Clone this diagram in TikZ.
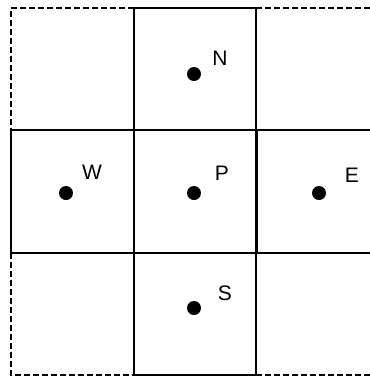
\documentclass[tikz,border=0pt]{standalone}
\usepackage{fontspec}
\setmainfont{Liberation Sans}
\usetikzlibrary{positioning}

\begin{document}
\begin{tikzpicture}[
x=1pt,y=-1pt,
linha/.style={line width=1.6pt},
borda/.style={line width=1.6pt,dash pattern=on 6pt off 3pt},
ponto/.style={
circle,
fill=black,
inner sep=0pt,
minimum size=14pt
},
rotulo/.style={font=\fontsize{21}{21}\selectfont,inner sep=0pt}
]

\useasboundingbox (0,0) rectangle (370,376);

\draw[linha] (134,8)--(134,375);
\draw[linha] (256,8)--(256,375);
\draw[linha] (11,130)--(370,130);
\draw[linha] (11,253)--(370,253);
\draw[line width=3pt] (256,130)--(256,253);

\draw[linha] (134,8)--(256,8);
\draw[linha] (134,375)--(256,375);
\draw[linha] (11,130)--(11,253);

\draw[borda] (134,8)--(11,8)--(11,130);
\draw[borda] (256,8)--(370,8);
\draw[borda] (11,253)--(11,375)--(134,375);
\draw[borda] (256,375)--(370,375);

\node[ponto] (n) at (194,74) {};
\node[ponto] (w) at (66,193) {};
\node[ponto] (p) at (194,193) {};
\node[ponto] (e) at (319,193) {};
\node[ponto] (s) at (194,308) {};

\node[rotulo] (nlab) at (220,58) {N};
\node[rotulo] (wlab) at (92,172) {W};
\node[rotulo] (plab) at (222,173) {P};
\node[rotulo] (elab) at (352,175) {E};
\node[rotulo] (slab) at (225,293) {S};

\end{tikzpicture}
\end{document}
